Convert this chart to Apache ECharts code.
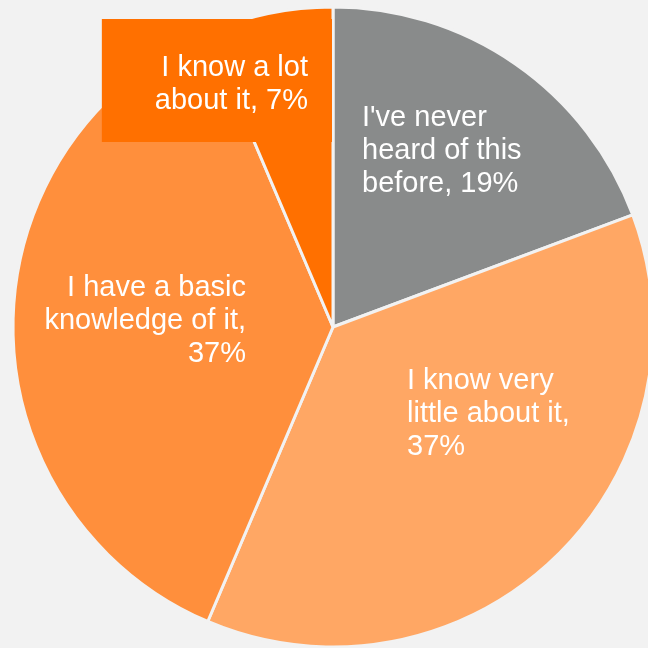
<!DOCTYPE html>
<html>
<head>
<meta charset="utf-8">
<script src="https://cdn.jsdelivr.net/npm/echarts@6/dist/echarts.min.js"></script>
<style>
  html, body { margin: 0; padding: 0; background: #f2f2f2; }
  #chart { width: 648px; height: 648px; }
</style>
</head>
<body>
<div id="chart"></div>
<script>
// slice data, clockwise from 12 o'clock (shares)
var names = [
  "I've never heard of this before",
  'I know very little about it',
  'I have a basic knowledge of it',
  'I know a lot about it'
];
var values = [19.3, 37.1, 37.2, 6.4];
var labelLines = [
  ["I've never", 'heard of this', 'before, 19%'],
  ['I know very', 'little about it,', '37%'],
  ['I have a basic', 'knowledge of it,', '37%'],
  ['I know a lot', 'about it, 7%']
];
var colors = ['#898b8b', '#ffa764', '#ff8f3c', '#ff7000'];

// where each label sits (label layout only)
var labelSpots = [
  { x: 362, y: 151, align: 'left', verticalAlign: 'middle' },
  { x: 407, y: 414, align: 'left', verticalAlign: 'middle' },
  { x: 246, y: 321, align: 'right', verticalAlign: 'middle' },
  { x: 332, y: 19, align: 'right', verticalAlign: 'top' }
];

window.onload = function () {
  var myChart = echarts.init(document.getElementById('chart'));

  var data = values.map(function (v, i) {
    var item = {
      value: v,
      name: names[i],
      itemStyle: { color: colors[i] }
    };
    if (i === 3) {
      item.label = {
        backgroundColor: '#ff7000',
        padding: [32, 24, 25, 53]
      };
    }
    return item;
  });

  var option = {
    backgroundColor: '#f2f2f2',
    animation: false,
    series: [
      {
        type: 'pie',
        center: [333, 327],
        radius: 320,
        startAngle: 90,
        clockwise: true,
        itemStyle: {
          borderColor: '#f2f2f2',
          borderWidth: 3
        },
        label: {
          show: true,
          position: 'inside',
          color: '#ffffff',
          fontFamily: 'Liberation Sans, Arial, sans-serif',
          fontSize: 29,
          lineHeight: 33,
          formatter: function (p) {
            return labelLines[p.dataIndex].join('\n');
          }
        },
        labelLine: { show: false },
        labelLayout: function (p) {
          return labelSpots[p.dataIndex];
        },
        data: data
      }
    ]
  };

  myChart.setOption(option);
};
</script>
</body>
</html>
